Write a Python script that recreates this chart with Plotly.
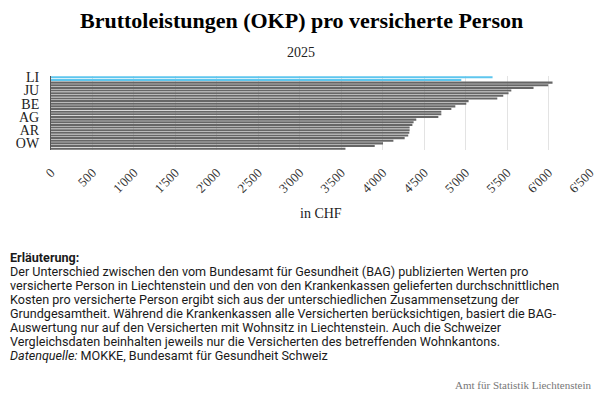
import plotly.graph_objects as go

categories = ["LI", "LI (Krankenkassen)", "GE", "BS", "TI", "JU", "NE", "VD", "BL", "SO",
              "BE", "SH", "ZH", "VS", "FR", "AG", "TG", "SG", "GL", "LU",
              "AR", "GR", "SZ", "UR", "ZG", "OW", "NW", "AI"]
values = [5325, 4948, 6048, 5996, 5819, 5551, 5518, 5454, 5382, 5036,
          5008, 4876, 4828, 4707, 4707, 4671, 4405, 4373, 4358, 4325,
          4325, 4321, 4308, 4265, 4129, 4004, 3904, 3551]
x_ticks = list(range(0, 6501, 500))

title = "Bruttoleistungen (OKP) pro versicherte Person"
subtitle = "2025"
x_title = "in CHF"
note_lines = [
    "<b>Erläuterung:</b>",
    "Der Unterschied zwischen den vom Bundesamt für Gesundheit (BAG) publizierten Werten pro",
    "versicherte Person in Liechtenstein und den von den Krankenkassen gelieferten durchschnittlichen",
    "Kosten pro versicherte Person ergibt sich aus der unterschiedlichen Zusammensetzung der",
    "Grundgesamtheit. Während die Krankenkassen alle Versicherten berücksichtigen, basiert die BAG-",
    "Auswertung nur auf den Versicherten mit Wohnsitz in Liechtenstein. Auch die Schweizer",
    "Vergleichsdaten beinhalten jeweils nur die Versicherten des betreffenden Wohnkantons.",
    "<i>Datenquelle:</i> MOKKE, Bundesamt für Gesundheit Schweiz",
]
source = "Amt für Statistik Liechtenstein"

W, H = 600, 400
plot_top, plot_bottom = 76, 150
plot_left, plot_right = 51, 590
ph = plot_bottom - plot_top
pw = plot_right - plot_left

def py(ypix):
    return (plot_bottom - ypix) / ph

def px(xpix):
    return (xpix - plot_left) / pw

colors = ["#5ec6ee" if c.startswith("LI") else "#666666" for c in categories]

fig = go.Figure(go.Bar(
    x=values, y=categories, orientation="h",
    marker=dict(color=colors, line=dict(width=0)),
    hoverinfo="x+y",
))

serif = "Liberation Serif, Times New Roman, serif"
sans = "Roboto, Noto Sans, sans-serif"

annotations = [
    dict(text=f"<b>{title}</b>", x=px(301), y=py(20), xref="paper", yref="paper",
         xanchor="center", yanchor="middle", showarrow=False,
         font=dict(family=serif, size=22, color="#000")),
    dict(text=subtitle, x=px(301), y=py(52), xref="paper", yref="paper",
         xanchor="center", yanchor="middle", showarrow=False,
         font=dict(family=serif, size=14, color="#222")),
    dict(text=x_title, x=px(321), y=py(213), xref="paper", yref="paper",
         xanchor="center", yanchor="middle", showarrow=False,
         font=dict(family=serif, size=14, color="#222")),
    dict(text=source, x=px(593), y=py(385),
         xref="paper", yref="paper", xanchor="right", yanchor="middle", showarrow=False,
         font=dict(family=serif, size=11, color="#777")),
]
for i, line in enumerate(note_lines):
    annotations.append(dict(
        text=line, x=px(9), y=py(257 + 14 * i), borderpad=0,
        xref="paper", yref="paper", xanchor="left", yanchor="middle", showarrow=False,
        font=dict(family=sans, size=12.6, color="#1a1a1a")))

fig.update_layout(
    width=W, height=H,
    margin=dict(l=plot_left, r=W - plot_right, t=plot_top, b=H - plot_bottom, pad=0,
                autoexpand=False),
    paper_bgcolor="white", plot_bgcolor="white",
    separators=".'",
    bargap=0.22,
    showlegend=False,
    annotations=annotations,
    xaxis=dict(range=[0, 6500], tickvals=x_ticks, tickformat=",d", tickangle=-45,
               automargin=False,
               showgrid=True, gridcolor="#e3e3e3", gridwidth=1, zeroline=False,
               showline=False, ticks="outside", ticklen=9, tickcolor="rgba(0,0,0,0)",
               tickfont=dict(family=serif, size=13, color="#333")),
    yaxis=dict(autorange="reversed", tickvals=categories[::5], ticks="outside",
               automargin=False,
               ticklen=8, tickcolor="rgba(0,0,0,0)", showgrid=False, showline=True,
               linecolor="#555", linewidth=1,
               tickfont=dict(family=serif, size=14, color="#222")),
)

fig.write_html("out.html", config={"displayModeBar": False},
               post_script="document.body.style.margin='0';document.body.style.padding='0';")
